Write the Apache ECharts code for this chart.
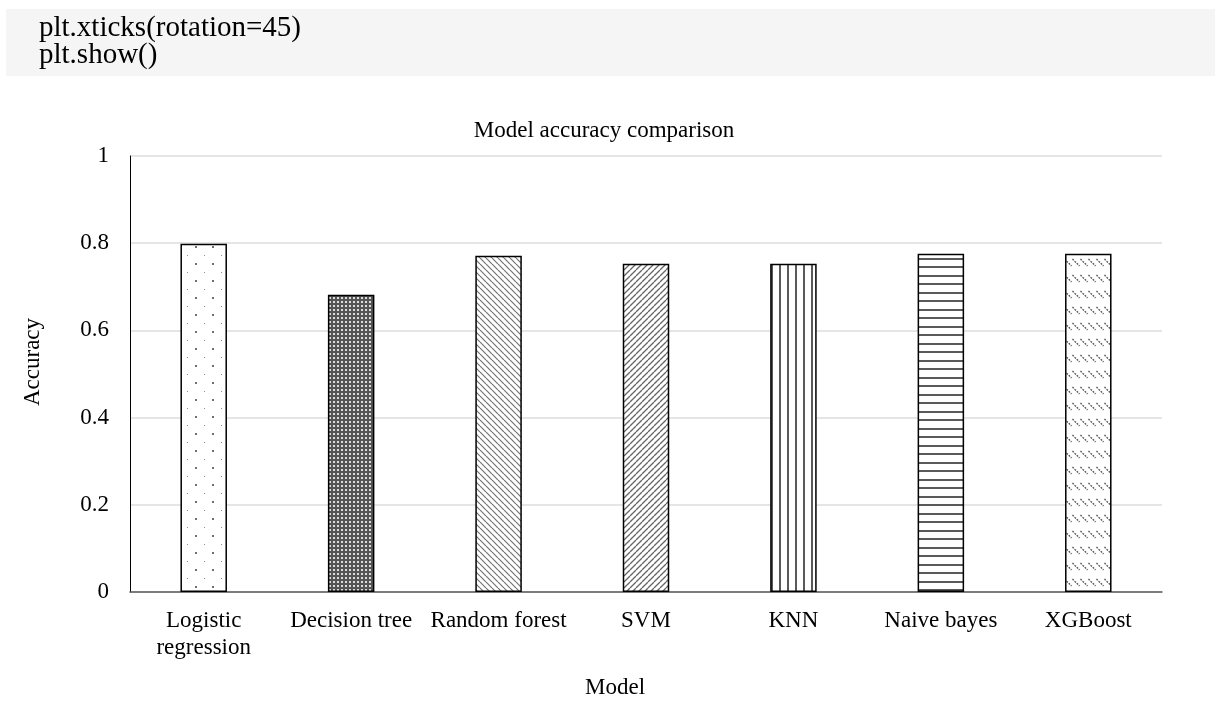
<!DOCTYPE html>
<html>
<head>
<meta charset="utf-8">
<title>Model accuracy comparison</title>
<script src="https://cdn.jsdelivr.net/npm/echarts@6/dist/echarts.min.js"></script>
<style>
  html, body { margin: 0; padding: 0; background: #ffffff; }
  #chart { width: 1215px; height: 704px; }
</style>
</head>
<body>
<div id="chart"></div>
<script>
// Models compared and their test accuracy
const categories = ['Logistic\nregression', 'Decision tree', 'Random forest', 'SVM', 'KNN', 'Naive bayes', 'XGBoost'];
const accuracy = [0.799, 0.682, 0.771, 0.753, 0.753, 0.776, 0.776];
const yTickLabels = ['0', '0.2', '0.4', '0.6', '0.8', '1'];
const codeLines = ['plt.xticks(rotation=45)', 'plt.show()'];

const SERIF = "'Liberation Serif', 'Times New Roman', serif";

// ---- hatch fills, one per bar ----
function tile(w, h, draw) {
  const c = document.createElement('canvas');
  c.width = w; c.height = h;
  const g = c.getContext('2d');
  g.fillStyle = '#ffffff';
  g.fillRect(0, 0, w, h);
  draw(g, w, h);
  return { image: c, repeat: 'repeat' };
}
function diag(g, s, down, color, lw, dash) {
  g.strokeStyle = color; g.lineWidth = lw;
  if (dash) g.setLineDash(dash);
  for (let k = -1; k <= 1; k++) {
    g.beginPath();
    if (down) { g.moveTo(k * s, 0); g.lineTo(k * s + s, s); }
    else { g.moveTo(k * s, s); g.lineTo(k * s + s, 0); }
    g.stroke();
  }
}
const fills = [
  // sparse staggered dots
  tile(17, 17, (g) => {
    g.fillStyle = '#8a8a8a'; g.fillRect(0, 0, 1, 1);
    g.fillStyle = '#707070'; g.fillRect(8, 8, 2, 2);
  }),
  // dense dark dotted grid
  tile(4, 4, (g) => {
    g.fillStyle = '#555555'; g.fillRect(0, 0, 4, 4);
    g.fillStyle = '#dcdcdc'; g.fillRect(1, 1, 2, 2);
  }),
  // wide downward diagonal
  tile(6, 6, (g, w) => diag(g, w, true, '#737373', 1.2)),
  // wide upward diagonal
  tile(6, 6, (g, w) => diag(g, w, false, '#666666', 1.3)),
  // vertical lines
  tile(8, 4, (g) => { g.fillStyle = '#5a5a5a'; g.fillRect(3, 0, 2, 4); }),
  // horizontal lines
  tile(4, 17, (g) => { g.fillStyle = '#5a5a5a'; g.fillRect(0, 3, 4, 2); g.fillRect(0, 11, 4, 2); }),
  // dashed downward diagonal rows
  tile(8, 16, (g) => {
    g.strokeStyle = '#555555'; g.lineWidth = 1.4; g.setLineDash([1.8, 1.2]);
    g.beginPath(); g.moveTo(0.5, 3); g.lineTo(7.5, 10); g.stroke();
  })
];

const chart = echarts.init(document.getElementById('chart'), null, { renderer: 'canvas' });

chart.setOption({
  backgroundColor: '#ffffff',
  animation: false,
  textStyle: { fontFamily: SERIF },
  grid: { left: 130, right: 53, top: 156, bottom: 112, containLabel: false },
  xAxis: {
    type: 'category',
    data: categories,
    axisLine: { show: true, lineStyle: { color: '#595959', width: 1.5 } },
    axisTick: { show: false },
    axisLabel: {
      interval: 0, margin: 15, color: '#000000',
      fontFamily: SERIF, fontSize: 23, lineHeight: 27
    },
    splitLine: { show: false }
  },
  yAxis: {
    type: 'value',
    min: 0, max: 1, interval: 0.2,
    axisLine: { show: true, lineStyle: { color: '#000000', width: 1 } },
    axisTick: { show: false },
    axisLabel: {
      margin: 21, color: '#000000', fontFamily: SERIF, fontSize: 23,
      formatter: (v) => yTickLabels[Math.round(v / 0.2)]
    },
    splitLine: { show: true, lineStyle: { color: '#dcdcdc', width: 1.5 } }
  },
  series: [{
    type: 'bar',
    barWidth: 46.5,
    data: accuracy.map((v, i) => ({
      value: v,
      itemStyle: { color: fills[i], borderColor: '#000000', borderWidth: 1.5 }
    }))
  }],
  graphic: [
    // code cell above the figure
    { type: 'rect', shape: { x: 6, y: 9, width: 1209, height: 67 }, style: { fill: '#f5f5f5' }, z: -1 },
    { type: 'text', x: 39, y: 28.5, style: { text: codeLines[0], font: '29px ' + SERIF, fill: '#000000', align: 'left', verticalAlign: 'middle' } },
    { type: 'text', x: 39, y: 55.5, style: { text: codeLines[1], font: '29px ' + SERIF, fill: '#000000', align: 'left', verticalAlign: 'middle' } },
    // chart title and axis titles
    { type: 'text', x: 604, y: 131, style: { text: 'Model accuracy comparison', font: '23px ' + SERIF, fill: '#000000', align: 'center', verticalAlign: 'middle' } },
    { type: 'text', x: 33, y: 362, rotation: Math.PI / 2, style: { text: 'Accuracy', font: '23px ' + SERIF, fill: '#000000', align: 'center', verticalAlign: 'middle' } },
    { type: 'text', x: 615, y: 688, style: { text: 'Model', font: '23px ' + SERIF, fill: '#000000', align: 'center', verticalAlign: 'middle' } }
  ]
});
</script>
</body>
</html>
